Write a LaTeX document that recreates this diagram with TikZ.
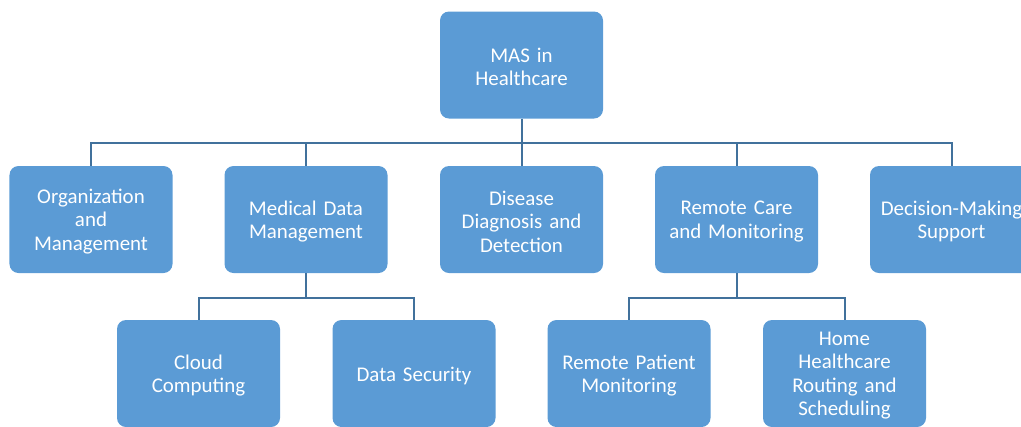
\documentclass[tikz,border=0pt]{standalone}
\usepackage{fontspec}
\setmainfont{Carlito}
\definecolor{boxblue}{RGB}{91,155,213}
\definecolor{linkblue}{RGB}{65,113,156}
\begin{document}
\begin{tikzpicture}[x=1bp,y=-1bp,
  box/.style={fill=boxblue, rounded corners=9bp, minimum width=163bp, minimum height=107bp,
    inner sep=0pt, text=white, align=center, text width=160bp,
    font=\fontsize{21}{23.5}\selectfont},
  lbl/.style={text=white, align=center, text width=160bp, inner sep=0pt,
    font=\fontsize{21}{23.5}\selectfont},
  conn/.style={draw=linkblue, line width=2bp}]
\useasboundingbox (0,0) rectangle (1021,426);
\clip (0,0) rectangle (1021,426);
\node[box] (top) at (521.5,65) {};
\node[box] (org) at (91,219.5) {};
\node[box] (med) at (306,219.5) {};
\node[box] (dis) at (521.5,219.5) {};
\node[box] (rem) at (736.5,219.5) {};
\node[box] (dec) at (951.5,219.5) {};
\node[box] (cloud) at (198.5,373.5) {};
\node[box] (sec) at (414,373.5) {};
\node[box] (rpm) at (629,373.5) {};
\node[box] (home) at (844.5,373.5) {};
\node[lbl] (ttop) at ([yshift=-2bp]top.center) {MAS in\\Healthcare};
\node[lbl] (torg) at ([yshift=-2bp]org.center) {Organization\\and\\Management};
\node[lbl] (tmed) at ([yshift=-2bp]med.center) {Medical Data\\Management};
\node[lbl] (tdis) at ([yshift=-2bp]dis.center) {Disease\\Diagnosis and\\Detection};
\node[lbl] (trem) at ([yshift=-2bp]rem.center) {Remote Care\\and Monitoring};
\node[lbl] (tdec) at ([yshift=-2bp]dec.center) {Decision-Making\\Support};
\node[lbl] (tcloud) at ([yshift=-2bp]cloud.center) {Cloud\\Computing};
\node[lbl] (tsec) at ([yshift=-2bp]sec.center) {Data Security};
\node[lbl] (trpm) at ([yshift=-2bp]rpm.center) {Remote Patient\\Monitoring};
\node[lbl] (thome) at ([yshift=-2bp]home.center) {Home\\Healthcare\\Routing and\\Scheduling};
\coordinate (b1) at (521.5,143);
\coordinate (b2) at (306,298);
\coordinate (b3) at (736.5,298);
\draw[conn] (top.south) -- (b1);
\foreach \c in {org,med,dis,rem,dec} \draw[conn] (b1) -| (\c.north);
\draw[conn] (med.south) -- (b2);
\foreach \c in {cloud,sec} \draw[conn] (b2) -| (\c.north);
\draw[conn] (rem.south) -- (b3);
\foreach \c in {rpm,home} \draw[conn] (b3) -| (\c.north);
\end{tikzpicture}
\end{document}
